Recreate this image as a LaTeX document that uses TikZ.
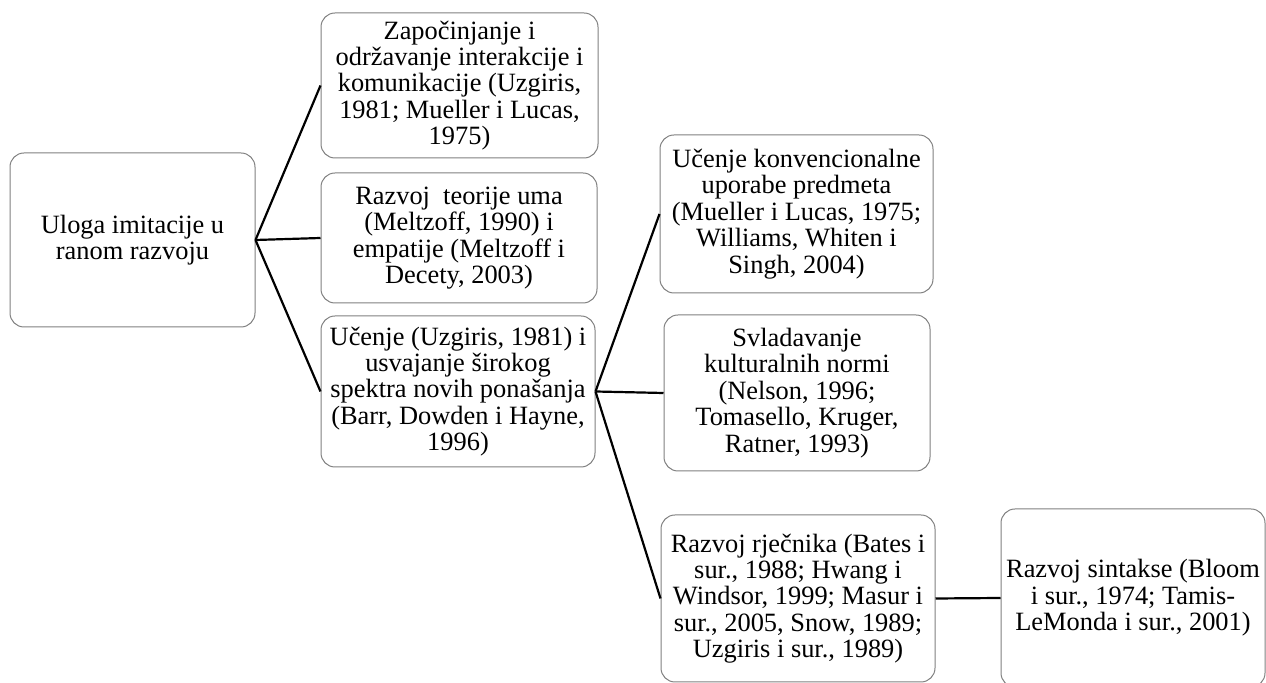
\documentclass[tikz,border=0pt]{standalone}
\usepackage{fontspec}
\setmainfont{Liberation Serif}
\usepackage{tikz}

\begin{document}
\begin{tikzpicture}[x=0.5pt, y=-0.5pt,
        blok/.style={draw=gray, line width=0.5pt, rounded corners=7pt, align=center, inner sep=1pt, font=\fontsize{13.2}{13.2}\selectfont},
        veza/.style={black, line width=1.1pt}]
	    \useasboundingbox (0,0) rectangle (1266,683);
	    \node[blok, minimum width=122.5pt, minimum height=87pt] (uloga) at (132.5,240) {Uloga imitacije u\\ ranom razvoju};
	    \node[blok, minimum width=138.5pt, minimum height=72.5pt] (interakcija) at (459.5,85.5) {Započinjanje i\\ održavanje interakcije i\\ komunikacije (Uzgiris,\\ 1981; Mueller i Lucas,\\ 1975)};
	    \node[blok, minimum width=138pt, minimum height=65pt] (teorija) at (459,238) {Razvoj~ teorije uma\\ (Meltzoff, 1990) i\\ empatije (Meltzoff i\\ Decety, 2003)};
	    \node[blok, minimum width=137pt, minimum height=75.5pt] (ucenje) at (458,391.5) {Učenje (Uzgiris, 1981) i\\ usvajanje širokog\\ spektra novih ponašanja\\ (Barr, Dowden i Hayne,\\ 1996)};
	    \node[blok, minimum width=136.5pt, minimum height=79pt] (predmeti) at (796.5,214) {Učenje konvencionalne\\ uporabe predmeta\\ (Mueller i Lucas, 1975;\\ Williams, Whiten i\\ Singh, 2004)};
	    \node[blok, minimum width=133pt, minimum height=78pt] (norme) at (797,393) {Svladavanje\\ kulturalnih normi\\ (Nelson, 1996;\\ Tomasello, Kruger,\\ Ratner, 1993)};
	    \node[blok, minimum width=137pt, minimum height=83.5pt] (rjecnik) at (798,598.5) {Razvoj rječnika (Bates i\\ sur., 1988; Hwang i\\ Windsor, 1999; Masur i\\ sur., 2005, Snow, 1989;\\ Uzgiris i sur., 1989)};
	    \node[blok, minimum width=132pt, minimum height=89pt] (sintaksa) at (1133,598) {Razvoj sintakse (Bloom\\ i sur., 1974; Tamis-\\ LeMonda i sur., 2001)};
	    \foreach \n in {interakcija,teorija,ucenje}
	    \draw[veza] (uloga.east)--(\n.west);
	    \foreach \n in {predmeti,norme,rjecnik}
	    \draw[veza] (ucenje.east)--(\n.west);
	    \draw[veza] (rjecnik.east)--(sintaksa.west);
\end{tikzpicture}
\end{document}
